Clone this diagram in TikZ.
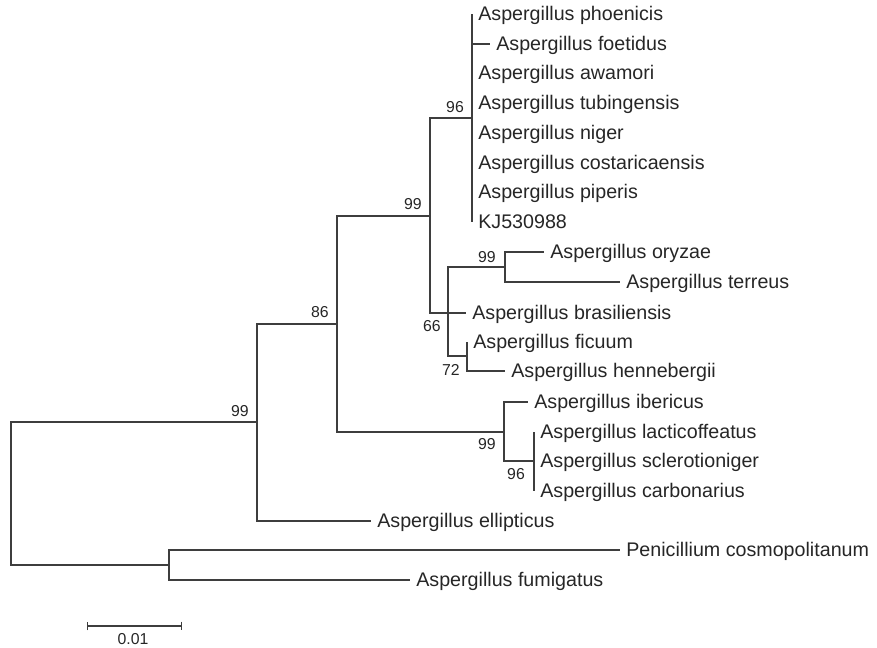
\documentclass[tikz,border=0pt]{standalone}
\usepackage{fontspec}
\setmainfont{Liberation Sans}
\usetikzlibrary{arrows.meta}

\begin{document}
\begin{tikzpicture}[x=0.02cm,y=-0.02cm,
    taxon/.style={anchor=west,inner xsep=3.4pt,inner ysep=0pt,text height=7.9pt,text depth=0pt,text=treetext,font=\fontsize{11.2}{13}\selectfont},
    boot/.style={inner sep=0pt,text=treetext,font=\fontsize{9}{11}\selectfont},
    branch/.style={draw=treeline,line width=0.75pt}]
    \definecolor{treeline}{RGB}{62,62,62}
    \definecolor{treetext}{RGB}{38,38,38}
    \useasboundingbox (0,0) rectangle (877,647);
    % internal nodes
    \coordinate (root) at (11,494);
    \coordinate (n99a) at (257,422);
    \coordinate (n169) at (169,565);
    \coordinate (n86) at (337,324);
    \coordinate (n99b) at (430,216);
    \coordinate (n96a) at (472,118);
    \coordinate (n66) at (448,313);
    \coordinate (n99c) at (505,267);
    \coordinate (n72) at (467,356);
    \coordinate (n99d) at (504,432);
    \coordinate (n96b) at (534,461);
    % taxa
    \node[taxon] (phoe) at (472,14) {Aspergillus phoenicis};
    \node[taxon] (foet) at (490,44) {Aspergillus foetidus};
    \node[taxon] (awam) at (472,73) {Aspergillus awamori};
    \node[taxon] (tubi) at (472,103) {Aspergillus tubingensis};
    \node[taxon] (nige) at (472,133) {Aspergillus niger};
    \node[taxon] (cost) at (472,163) {Aspergillus costaricaensis};
    \node[taxon] (pipe) at (472,192) {Aspergillus piperis};
    \node[taxon] (kj) at (472,222) {KJ530988};
    \node[taxon] (oryz) at (544,252) {Aspergillus oryzae};
    \node[taxon] (terr) at (620,282) {Aspergillus terreus};
    \node[taxon] (bras) at (466,313) {Aspergillus brasiliensis};
    \node[taxon] (ficu) at (467,342) {Aspergillus ficuum};
    \node[taxon] (henn) at (505,371) {Aspergillus hennebergii};
    \node[taxon] (iber) at (528,402) {Aspergillus ibericus};
    \node[taxon] (lact) at (534,432) {Aspergillus lacticoffeatus};
    \node[taxon] (scle) at (534,461) {Aspergillus sclerotioniger};
    \node[taxon] (carb) at (534,491) {Aspergillus carbonarius};
    \node[taxon] (elli) at (371,521) {Aspergillus ellipticus};
    \node[taxon] (peni) at (620,550) {Penicillium cosmopolitanum};
    \node[taxon] (fumi) at (410,580) {Aspergillus fumigatus};
    % branches
    \draw[branch] (root) |- (n99a);
    \draw[branch] (root) |- (n169);
    \draw[branch] (n169) |- (peni.west);
    \draw[branch] (n169) |- (fumi.west);
    \draw[branch] (n99a) |- (n86);
    \draw[branch] (n99a) |- (elli.west);
    \draw[branch] (n86) |- (n99b);
    \draw[branch] (n86) |- (n99d);
    \draw[branch] (n99b) |- (n96a);
    \draw[branch] (n99b) |- (n66);
    \draw[branch] (n96a) |- (phoe.west);
    \draw[branch] (n96a) |- (foet.west);
    \draw[branch] (n96a) |- (awam.west);
    \draw[branch] (n96a) |- (tubi.west);
    \draw[branch] (n96a) |- (nige.west);
    \draw[branch] (n96a) |- (cost.west);
    \draw[branch] (n96a) |- (pipe.west);
    \draw[branch] (n96a) |- (kj.west);
    \draw[branch] (n66) |- (n99c);
    \draw[branch] (n66) -- (bras.west);
    \draw[branch] (n66) |- (n72);
    \draw[branch] (n99c) |- (oryz.west);
    \draw[branch] (n99c) |- (terr.west);
    \draw[branch] (n72) |- (ficu.west);
    \draw[branch] (n72) |- (henn.west);
    \draw[branch] (n99d) |- (iber.west);
    \draw[branch] (n99d) |- (n96b);
    \draw[branch] (n96b) |- (lact.west);
    \draw[branch] (n96b) |- (scle.west);
    \draw[branch] (n96b) |- (carb.west);
    % bootstrap values
    \node[boot] (b99a) at ([shift={(-17,-11)}]n99a) {99};
    \node[boot] (b86) at ([shift={(-17,-12)}]n86) {86};
    \node[boot] (b99b) at ([shift={(-17,-12)}]n99b) {99};
    \node[boot] (b96a) at ([shift={(-17,-11)}]n96a) {96};
    \node[boot] (b99c) at ([shift={(-18,-10)}]n99c) {99};
    \node[boot] (b66) at ([shift={(-16,13)}]n66) {66};
    \node[boot] (b72) at ([shift={(-16,14)}]n72) {72};
    \node[boot] (b99d) at ([shift={(-17,12)}]n99d) {99};
    \node[boot] (b96b) at ([shift={(-18,13)}]n96b) {96};
    % scale bar
    \coordinate (sbl) at (87,626);
    \coordinate (sbr) at (182,626);
    \draw[branch,{Bar[width=5pt]}-{Bar[width=5pt]}] (sbl) -- (sbr);
    \node[boot] (sblab) at (133,639) {0.01};
\end{tikzpicture}
\end{document}
